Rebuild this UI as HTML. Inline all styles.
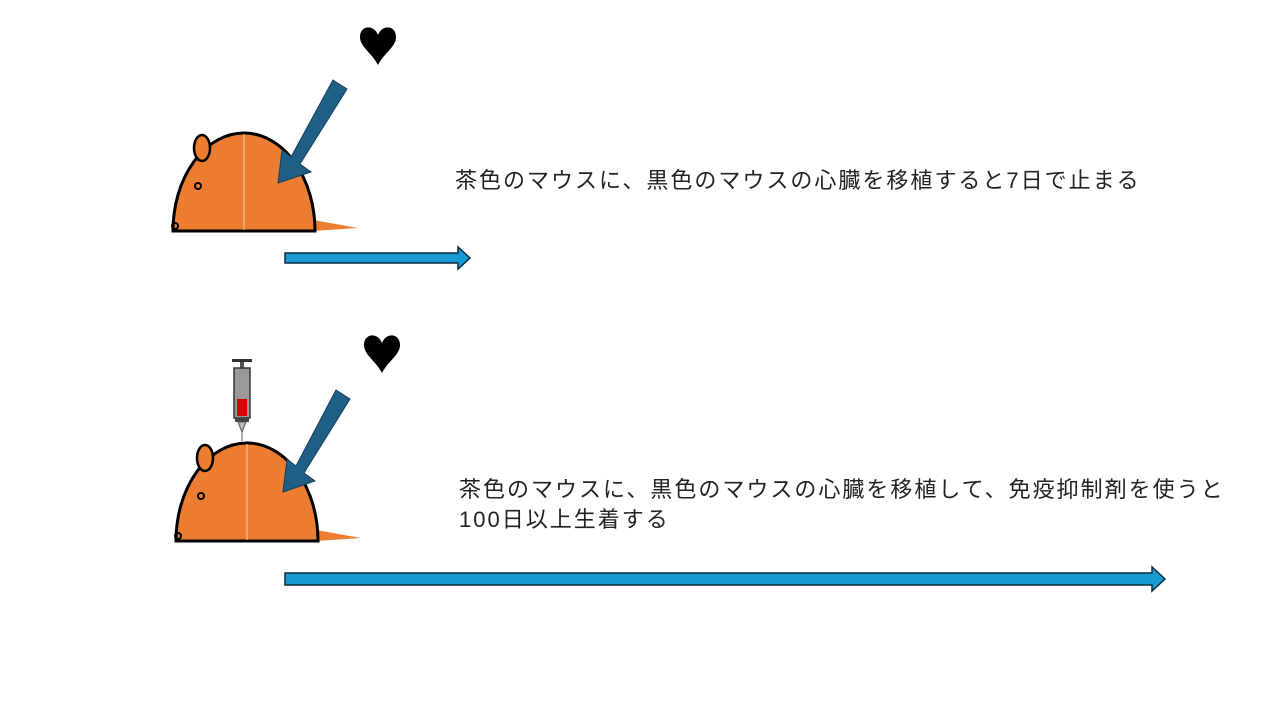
<!DOCTYPE html>
<html><head><meta charset="utf-8"><style>
body{margin:0;width:1280px;height:720px;background:#fff;overflow:hidden;position:relative}
.t{position:absolute;font-family:"Liberation Sans","Noto Sans CJK JP",sans-serif;font-size:22px;letter-spacing:2px;color:#222;line-height:30px;white-space:nowrap}
</style></head><body>
<svg width="1280" height="720" style="position:absolute;left:0;top:0">
<defs>
<g id="mouse">
<polygon points="140,87 185,95 140,98" fill="#ed7d31"/>
<path d="M0,98 A71,98 0 0 1 142,98 Z" fill="#ed7d31" stroke="#000" stroke-width="3"/>
<line x1="71" y1="1" x2="71" y2="97" stroke="#f5c9a8" stroke-width="1"/>
<ellipse cx="29" cy="15" rx="8" ry="13" fill="#ed7d31" stroke="#000" stroke-width="2.5"/>
<circle cx="25" cy="53" r="3" fill="none" stroke="#000" stroke-width="2"/>
<circle cx="2" cy="93" r="3" fill="none" stroke="#000" stroke-width="2"/>
</g>
<path id="heart" d="M18,8 C14,-3 0,-2 0,10 C0,20 12,26 18,38 C24,26 36,20 36,10 C36,-2 22,-3 18,8 Z" fill="#000"/>
</defs>
<use href="#mouse" transform="translate(173,133)"/>
<use href="#mouse" transform="translate(176,443)"/>
<use href="#heart" transform="translate(360,27)"/>
<use href="#heart" transform="translate(364,335)"/>
<polygon points="333,80 347,89 300,164 311,172 278,183 282,150 291,157" fill="#1f5f85" stroke="#163f5a" stroke-width="1"/>
<polygon points="336,390 350,399 304,473 315,481 283,492 287,459 296,466" fill="#1f5f85" stroke="#163f5a" stroke-width="1"/>
<polygon points="285,253 458,253 458,247 470,258 458,269 458,263 285,263" fill="#189ad3" stroke="#0d2a3a" stroke-width="1.5"/>
<polygon points="285,573 1152,573 1152,567 1165,579 1152,591 1152,585 285,585" fill="#189ad3" stroke="#0d2a3a" stroke-width="1.5"/>
<rect x="232" y="359" width="20" height="3" fill="#333"/>
<rect x="240" y="362" width="4" height="6" fill="#555"/>
<rect x="234" y="368" width="16" height="50" fill="#999" stroke="#333" stroke-width="1.5"/>
<rect x="237" y="399" width="10" height="17" fill="#d00"/>
<rect x="235" y="418" width="14" height="4" fill="#444"/>
<polygon points="238,422 246,422 242,432" fill="#bbb" stroke="#555" stroke-width="1"/>
<line x1="242" y1="432" x2="242" y2="441" stroke="#555" stroke-width="1"/>
</svg>
<div class="t" style="left:455px;top:166px">茶色のマウスに、黒色のマウスの心臓を移植すると7日で止まる</div>
<div class="t" style="left:459px;top:475px">茶色のマウスに、黒色のマウスの心臓を移植して、免疫抑制剤を使うと<br>100日以上生着する</div>
</body></html>
